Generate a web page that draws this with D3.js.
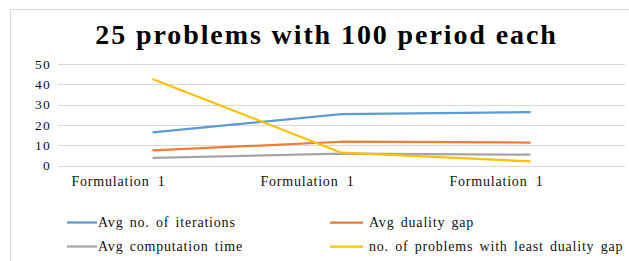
<!DOCTYPE html>
<html>
<head>
<meta charset="utf-8">
<title>25 problems with 100 period each</title>
<style>
  body { margin: 0; background: #fff; }
  text { font-family: "Liberation Serif", "DejaVu Serif", serif; }
</style>
</head>
<body>
<svg width="629" height="261"></svg>
<script src="https://d3js.org/d3.v7.min.js"></script>
<script>

var categories = ["Formulation 1", "Formulation 1 ", "Formulation 1  "];
var seriesNames = ["Avg no. of iterations", "Avg duality gap",
                   "Avg computation time", "no. of problems with least duality gap"];
var seriesColors = ["#5b9bd5", "#ed7d31", "#a5a5a5", "#ffc000"];
var iterations = [16.3, 25.3, 26.3];
var dualityGap = [7.4, 11.7, 11.3];
var compTime = [3.8, 5.8, 5.3];
var leastGap = [42.6, 6.3, 2.0];
var yTicks = [0, 10, 20, 30, 40, 50];

var series = [iterations, dualityGap, compTime, leastGap];

var svg = d3.select("svg");

// chart frame
svg.append("rect")
    .attr("x", 10.5).attr("y", 9.5)
    .attr("width", 640).attr("height", 270)
    .attr("fill", "#fff")
    .attr("stroke", "#d9d9d9");

svg.append("text")
    .attr("x", 326.5).attr("y", 44)
    .attr("text-anchor", "middle")
    .attr("font-size", 28)
    .attr("font-weight", "bold")
    .attr("fill", "#000")
    .style("letter-spacing", "1.9px")
    .text("25 problems with 100 period each");

var x = d3.scaleBand()
    .domain(categories)
    .range([58, 625]);

var y = d3.scaleLinear()
    .domain([0, 50])
    .range([165.5, 64]);

// gridlines
svg.append("g")
  .selectAll("line")
  .data(yTicks)
  .enter().append("line")
    .attr("x1", 58).attr("x2", 625)
    .attr("y1", function(d) { return Math.round(y(d)) + 0.5; })
    .attr("y2", function(d) { return Math.round(y(d)) + 0.5; })
    .attr("stroke", "#d9d9d9");

var yAxis = svg.append("g")
    .attr("transform", "translate(58,0)")
    .call(d3.axisLeft(y).tickValues(yTicks).tickSize(0).tickPadding(7));
yAxis.select(".domain").remove();
yAxis.selectAll("text")
    .attr("font-size", 13.5)
    .attr("fill", "#111")
    .style("font-family", "'Liberation Serif', serif")
    .style("letter-spacing", "1.2px");

// category labels sit left of the data points, as in the source chart
var xAxis = svg.append("g")
    .attr("transform", "translate(0,165)")
    .call(d3.axisBottom(x).tickSize(0).tickPadding(11)
      .tickFormat(function(d) { return d.trim(); }));
xAxis.select(".domain").remove();
xAxis.selectAll("text")
    .attr("font-size", 14)
    .attr("dx", -34)
    .attr("fill", "#111")
    .style("font-family", "'Liberation Serif', serif")
    .style("letter-spacing", "0.8px")
    .style("word-spacing", "4px");

var line = d3.line()
    .x(function(d, i) { return x(categories[i]) + x.bandwidth() / 2; })
    .y(function(d) { return y(d); });

// draw in order: gray and orange, blue, yellow on top
var order = [2, 1, 0, 3];
svg.append("g")
  .selectAll("path")
  .data(order)
  .enter().append("path")
    .attr("d", function(k) { return line(series[k]); })
    .attr("fill", "none")
    .attr("stroke", function(k) { return seriesColors[k]; })
    .attr("stroke-width", 2.25)
    .attr("stroke-linejoin", "round");

// legend
var legendPos = [[67, 222.5], [330, 222.5], [67, 246.5], [330, 246.5]];
var lg = svg.append("g")
  .selectAll("g")
  .data(seriesNames)
  .enter().append("g")
    .attr("transform", function(d, i) {
      return "translate(" + legendPos[i][0] + "," + legendPos[i][1] + ")";
    });

lg.append("line")
    .attr("x1", 0).attr("x2", function(d, i) { return i % 2 == 0 ? 30 : 33; })
    .attr("y1", 0).attr("y2", 0)
    .attr("stroke", function(d, i) { return seriesColors[i]; })
    .attr("stroke-width", 2.25);

lg.append("text")
    .attr("x", function(d, i) { return i % 2 == 0 ? 31 : 39; })
    .attr("y", 4.5)
    .attr("font-size", 14)
    .attr("fill", "#111")
    .style("letter-spacing", "0.8px")
    .style("word-spacing", "2px")
    .text(function(d) { return d; });

</script>
</body>
</html>
